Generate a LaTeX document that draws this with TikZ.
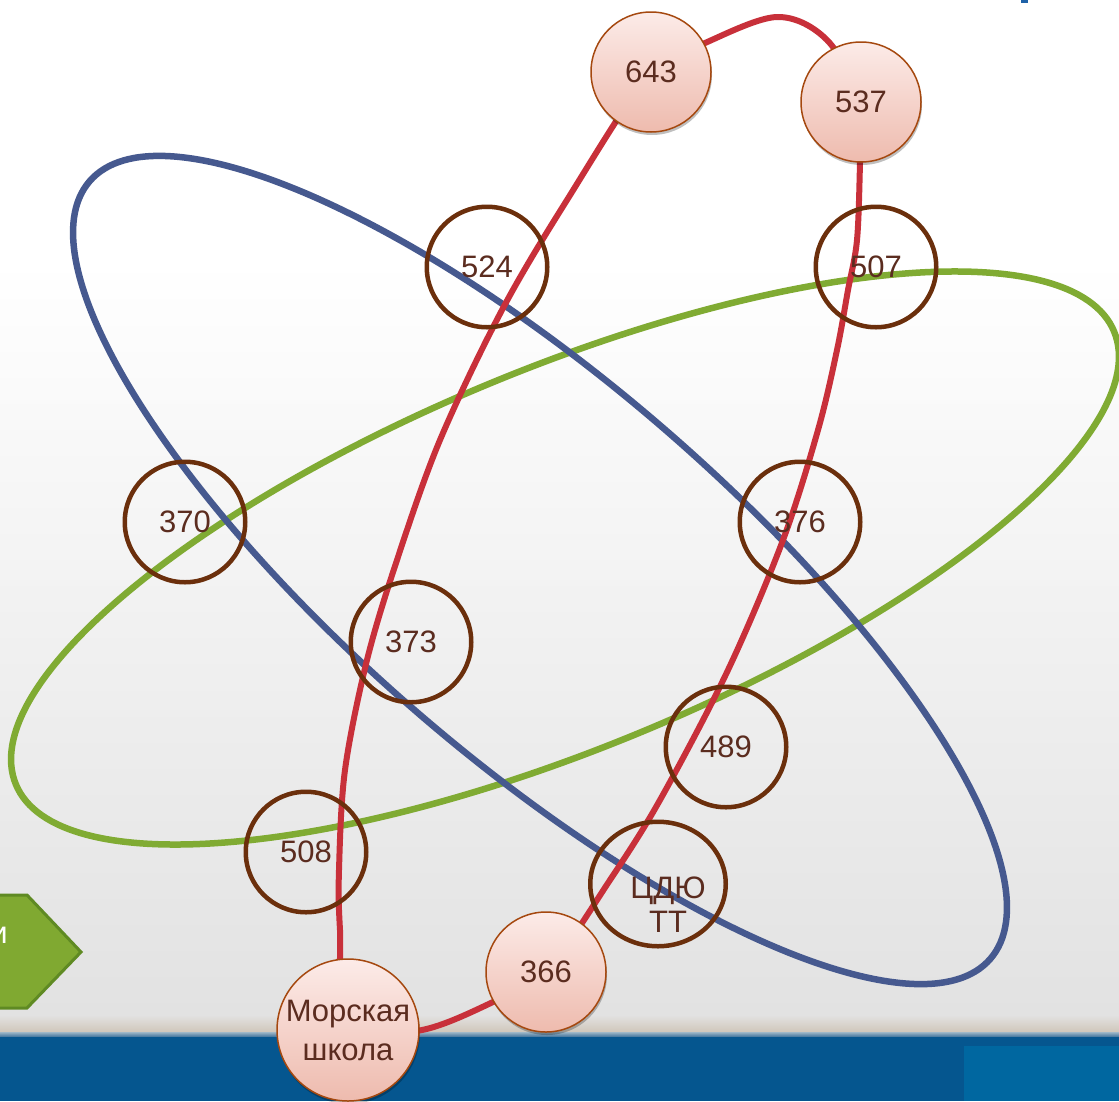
\documentclass[tikz,border=0pt]{standalone}
\usepackage{fontspec}
\setmainfont{Liberation Sans}
\usetikzlibrary{shapes.geometric,shadows}
\pgfdeclarelayer{bg}
\pgfsetlayers{bg,main}
\definecolor{ringc}{HTML}{6B2F0C}
\definecolor{txtc}{HTML}{5B2C1F}
\definecolor{pinkb}{HTML}{A5480F}
\definecolor{pinktop}{HTML}{FCEBE8}
\definecolor{pinkbot}{HTML}{EEBBAE}
\definecolor{redc}{HTML}{C8303A}
\definecolor{bluec}{HTML}{46598F}
\definecolor{greenc}{HTML}{80AB33}
\definecolor{arrowfill}{HTML}{80A931}
\definecolor{arrowdraw}{HTML}{5F8A23}
\definecolor{bandblue}{HTML}{05568F}
\definecolor{bandlight}{HTML}{0067A0}
\definecolor{bggray}{HTML}{E2E2E2}
\definecolor{beige}{HTML}{CFC5B8}
\definecolor{stripetop}{HTML}{A0B8C8}
\definecolor{stripebot}{HTML}{326996}
\definecolor{markblue}{HTML}{1F62A8}
\begin{document}
\begin{tikzpicture}[x=1pt,y=-1pt,
  lbl/.style={text=txtc, font=\fontsize{31}{36}\selectfont, inner sep=0pt},
  ring/.style={lbl, circle, draw=ringc, line width=4.5pt, minimum size=120.5pt},
  ringe/.style={ellipse, draw=ringc, line width=4.5pt, minimum width=135.5pt, minimum height=124.5pt, inner sep=0pt},
  pinknode/.style={lbl, circle, draw=pinkb, line width=1.5pt, top color=pinktop, bottom color=pinkbot, minimum size=120pt, align=center,
    drop shadow={shadow xshift=1pt, shadow yshift=-3pt, opacity=0.25, fill=black}},
  ellline/.style={line width=6.5pt},
  redline/.style={draw=redc, line width=6pt}
]
\useasboundingbox (0,0) rectangle (1119,1101);

% nodes (main layer)
\node[pinknode] (n643) at (651,72) {643};
\node[pinknode] (n537) at (861,102) {537};
\node[pinknode] (n366) at (546,972) {366};
\node[pinknode, minimum size=142pt, font=\fontsize{31}{39}\selectfont] (mor) at (348,1030) {Морская\\школа};

\node[ring] (r524) at (487,267) {524};
\node[ring] (r507) at (876,267) {507};
\node[ring] (r370) at (185,522) {370};
\node[ring] (r376) at (800,522) {376};
\node[ring] (r373) at (411,642) {373};
\node[ring] (r489) at (726,747) {489};
\node[ring] (r508) at (306,852) {508};
\node[ringe] (cdyu) at (658,884) {};
\node[lbl, align=center, font=\fontsize{31}{34}\selectfont] (cdyut) at (668,905) {ЦДЮ\\ТТ};

% green arrow text at left
\node[text=white, font=\fontsize{31}{36}\selectfont, inner sep=0pt, anchor=base east] (arrtxt) at (8,943) {и};

\begin{pgfonlayer}{bg}
  % background
  \fill[white] (0,0) rectangle (1119,262);
  \shade[top color=white, bottom color=bggray] (0,260) rectangle (1119,1016);
  \shade[top color=bggray, bottom color=beige] (0,1015) rectangle (1119,1033);
  \shade[top color=stripetop, bottom color=stripebot] (0,1032) rectangle (1119,1037.5);
  \fill[bandblue] (0,1037) rectangle (1119,1101);
  \fill[bandlight] (964,1046) rectangle (1119,1101);
  \fill[markblue] (1021,0) rectangle (1028,3);
  % arrow shape
  \filldraw[fill=arrowfill, draw=arrowdraw, line width=3pt, line join=miter]
    (-10,895) -- (27,895) -- (81,952) -- (27,1008) -- (-10,1008) -- cycle;
  % ellipses
  \draw[greenc, ellline, rotate around={22.4:(565,558)}] (565,558) ellipse [x radius=594pt, y radius=190pt];
  \draw[bluec, ellline, rotate around={-40.8:(540,570)}] (540,570) ellipse [x radius=595pt, y radius=188pt];
  % red loop through the filled nodes
  \draw[redline] plot[smooth cycle, tension=0.55] coordinates {
    (mor.center) (340,930) (339,870) (345,770) (367,660) (397,560) (440,440) (502,310) (567,200)
    (n643.center) (705,43) (777,17) (827,40)
    (n537.center) (860,163) (857,240) (848,290) (837,350) (818,430) (783,540) (728,670) (660,800) (610,880)
    (n366.center) (493,1002) (422,1030)};
\end{pgfonlayer}
\end{tikzpicture}
\end{document}
